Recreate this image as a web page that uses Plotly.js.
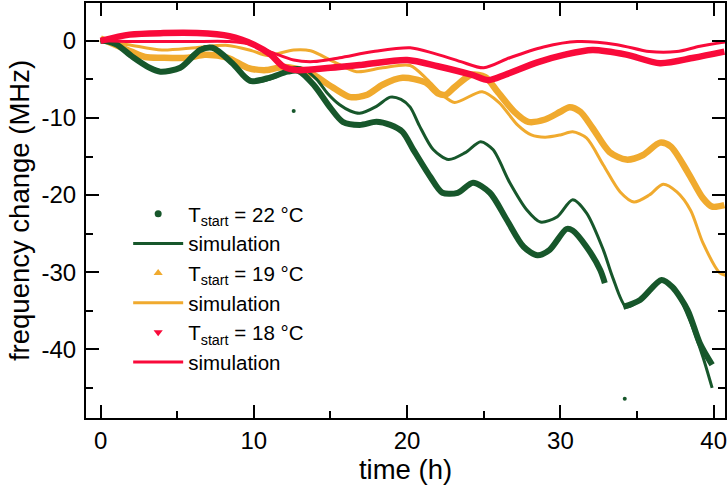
<!DOCTYPE html>
<html>
<head>
<meta charset="utf-8">
<script src="https://cdn.plot.ly/plotly-3.0.1.min.js"></script>
<style>html,body{margin:0;padding:0;background:#fff;}#chart{width:728px;height:491px;}</style>
</head>
<body>
<div id="chart"></div>
<script>
// ---- data (time in h, frequency change in MHz) ----
const greenDataX = [0, 0.5, 1.06, 2.1, 3.2, 3.9, 5.2, 6.5, 7.3, 8.6, 9.75, 11.0, 12.2, 12.9, 13.9, 15.0, 15.8, 16.9, 18.0, 18.9, 19.7, 20.4, 21.5, 22.3, 23.3, 24.3, 25.4, 26.5, 27.6, 28.5, 29.3, 30.4, 30.8, 31.7, 32.6, 32.9, null, 34.1, 35.2, 36.6, 37.3, 38.3, 39.1, 39.9];
const greenDataY = [0, -0.1, -0.5, -2.1, -3.5, -4.0, -3.5, -1.2, -0.9, -2.9, -5.2, -4.8, -4.0, -3.9, -5.7, -8.7, -10.5, -10.9, -10.5, -10.9, -11.8, -14.1, -17.6, -19.7, -19.7, -18.4, -19.7, -23.2, -26.7, -27.8, -27.1, -24.4, -24.6, -26.7, -29.7, -31.4, null, -34.5, -33.6, -31.0, -31.9, -34.9, -39.2, -42.0];
const greenOutlierX = [12.6, 34.2];
const greenOutlierY = [-9.1, -46.4];

const greenSimX = [0, 1.0, 2.0, 3.0, 4.1, 5.2, 6.0, 6.8, 7.8, 9.0, 10.1, 11.3, 12.6, 13.2, 14.1, 14.8, 15.6, 16.3, 16.9, 18.0, 18.9, 19.6, 20.2, 20.8, 21.7, 22.7, 23.8, 24.8, 25.6, 26.7, 27.8, 28.7, 29.8, 30.8, 31.7, 32.8, 33.4, 34.3, 35.3, 36.5, 37.4, 38.5, 39.3, 39.9];
const greenSimY = [0, -0.4, -1.8, -3.2, -3.9, -3.4, -1.8, -0.8, -1.5, -3.8, -5.3, -4.8, -3.5, -3.6, -5.0, -6.8, -8.3, -9.1, -9.4, -8.5, -7.3, -7.6, -8.6, -11.0, -14.1, -15.4, -14.5, -13.1, -14.1, -18.4, -21.9, -23.5, -22.8, -20.6, -22.3, -27.1, -30.6, -34.5, -33.5, -31.0, -32.0, -36.5, -41.0, -45.0];

const orangeDataX = [0, 0.95, 2.0, 2.9, 4.0, 5.7, 6.8, 8.3, 9.6, 10.8, 11.9, 13.5, 15.2, 16.3, 17.4, 18.4, 19.7, 21.2, 22.0, 22.5, 23.1, 24.2, 25.1, 25.9, 27.0, 27.9, 29.0, 30.0, 30.6, 31.3, 32.1, 33.2, 34.3, 35.4, 36.5, 37.2, 38.3, 39.3, 39.9, 40.7];
const orangeDataY = [0.3, -0.5, -1.4, -2.1, -2.2, -2.2, -1.8, -2.2, -3.5, -3.8, -3.4, -4.0, -6.1, -7.3, -7.0, -5.7, -4.8, -5.4, -6.8, -7.0, -6.0, -4.4, -4.7, -6.6, -9.2, -10.5, -10.2, -9.2, -8.6, -9.2, -11.3, -14.4, -15.4, -14.8, -13.2, -13.7, -17.0, -20.4, -21.5, -21.3];

const orangeSimX = [0, 1.8, 4.0, 6.2, 8.3, 9.9, 10.9, 12.6, 13.7, 15.2, 16.7, 18.4, 20.2, 21.3, 22.3, 23.1, 24.9, 26.0, 27.2, 28.1, 29.0, 30.0, 30.8, 31.7, 32.8, 33.9, 34.8, 35.8, 36.7, 37.6, 38.5, 39.3, 40.4, 40.8];
const orangeSimY = [0, -0.5, -1.2, -0.9, -0.6, -1.3, -1.9, -1.2, -1.3, -2.7, -4.0, -3.5, -3.2, -5.0, -7.0, -8.0, -6.6, -8.0, -10.9, -12.2, -12.5, -12.2, -11.8, -12.6, -16.1, -19.6, -20.9, -20.0, -18.6, -19.6, -22.0, -26.2, -30.1, -30.4];

const redDataX = [0, 1.9, 4.1, 6.3, 8.4, 10.0, 11.1, 11.9, 12.8, 15.0, 17.1, 20.0, 22.0, 24.2, 25.3, 26.4, 28.5, 30.3, 32.1, 34.3, 36.5, 38.7, 40.7];
const redDataY = [0, 0.8, 1.0, 1.0, 0.6, -0.5, -1.8, -3.3, -3.8, -3.5, -3.1, -2.5, -3.3, -4.4, -5.1, -4.4, -2.8, -1.8, -1.2, -1.8, -2.9, -2.2, -1.4];

const redSimX = [0, 2.0, 4.0, 6.0, 8.4, 9.9, 11.3, 12.6, 13.9, 15.6, 17.8, 20.2, 21.7, 23.5, 25.0, 26.7, 28.9, 31.1, 33.7, 35.8, 37.6, 39.1, 40.9];
const redSimY = [0, -0.1, -0.1, -0.1, -0.1, -0.5, -1.6, -2.5, -2.7, -2.2, -1.4, -0.9, -1.6, -2.7, -3.5, -2.2, -0.8, -0.1, -0.5, -1.4, -1.4, -0.7, -0.1];

const names = ['T<sub>start</sub> = 22 °C', 'simulation', 'T<sub>start</sub> = 19 °C', 'simulation', 'T<sub>start</sub> = 18 °C', 'simulation'];
const yTickVals = [0, -10, -20, -30, -40];
const yTickText = ['0', '-10', '-20', '-30', '-40'];
const xTickVals = [0, 10, 20, 30, 40];
const xTickText = ['0', '10', '20', '30', '40'];

// ---- styles ----
const GREEN = '#17572b', ORANGE = '#f0aa2e', RED = '#f90a3a';
const dataW = 6.5, simW = 3;
const sp = {shape: 'spline', smoothing: 0.8};

const traces = [
  {x: orangeDataX, y: orangeDataY, mode: 'lines', line: Object.assign({color: ORANGE, width: dataW}, sp), showlegend: false, hoverinfo: 'skip'},
  {x: orangeSimX, y: orangeSimY, mode: 'lines', line: Object.assign({color: ORANGE, width: simW}, sp), name: names[3], legendrank: 4},
  {x: greenDataX, y: greenDataY, mode: 'lines', connectgaps: false, line: Object.assign({color: GREEN, width: 6}, sp), showlegend: false, hoverinfo: 'skip'},
  {x: greenSimX, y: greenSimY, mode: 'lines', line: Object.assign({color: GREEN, width: simW}, sp), name: names[1], legendrank: 2},
  {x: greenOutlierX, y: greenOutlierY, mode: 'markers', marker: {color: GREEN, size: 4}, showlegend: false, hoverinfo: 'skip'},
  {x: redDataX, y: redDataY, mode: 'lines', line: Object.assign({color: RED, width: dataW}, sp), showlegend: false, hoverinfo: 'skip'},
  {x: redSimX, y: redSimY, mode: 'lines', line: Object.assign({color: RED, width: simW}, sp), name: names[5], legendrank: 6},
  {x: [null], y: [null], mode: 'markers', marker: {color: GREEN, size: 7, symbol: 'circle'}, name: names[0], legendrank: 1},
  {x: [null], y: [null], mode: 'markers', marker: {color: ORANGE, size: 8, symbol: 'triangle-up'}, name: names[2], legendrank: 3},
  {x: [null], y: [null], mode: 'markers', marker: {color: RED, size: 8, symbol: 'triangle-down'}, name: names[4], legendrank: 5}
];

const FONT = 'Liberation Sans, Arial, sans-serif';
const axisCommon = {
  showline: true, linecolor: '#000', linewidth: 2, mirror: 'ticks',
  ticks: 'inside', ticklen: 13, tickwidth: 2, tickcolor: '#000',
  showgrid: false, zeroline: false,
  tickfont: {family: FONT, size: 24, color: '#000'},
  tickmode: 'array'
};

const layout = {
  width: 728, height: 491,
  margin: {l: 86, r: 3, t: 3, b: 73},
  paper_bgcolor: '#fff', plot_bgcolor: '#fff',
  font: {family: FONT, color: '#000'},
  xaxis: Object.assign({}, axisCommon, {
    range: [-0.95, 40.74], tickvals: xTickVals, ticktext: xTickText,
    minor: {tickmode: 'linear', tick0: 0, dtick: 5, ticklen: 7, tickwidth: 2, tickcolor: '#000', ticks: 'inside'},
    title: {text: 'time (h)', font: {family: FONT, size: 27.5, color: '#000'}, standoff: 5}
  }),
  yaxis: Object.assign({}, axisCommon, {
    range: [-48.9, 4.9], tickvals: yTickVals, ticktext: yTickText,
    ticklabelstandoff: 3,
    minor: {tickmode: 'linear', tick0: 0, dtick: 5, ticklen: 7, tickwidth: 2, tickcolor: '#000', ticks: 'inside'},
    title: {text: 'frequency change (MHz)', font: {family: FONT, size: 27.5, color: '#000'}, standoff: 4}
  }),
  legend: {
    x: 0.066, y: 0.54, xanchor: 'left', yanchor: 'top',
    bgcolor: 'rgba(0,0,0,0)', borderwidth: 0,
    font: {family: FONT, size: 20.5, color: '#000'},
    itemwidth: 50, traceorder: 'normal'
  },
  showlegend: true
};

Plotly.newPlot('chart', traces, layout, {displayModeBar: false, staticPlot: true});
</script>
</body>
</html>
